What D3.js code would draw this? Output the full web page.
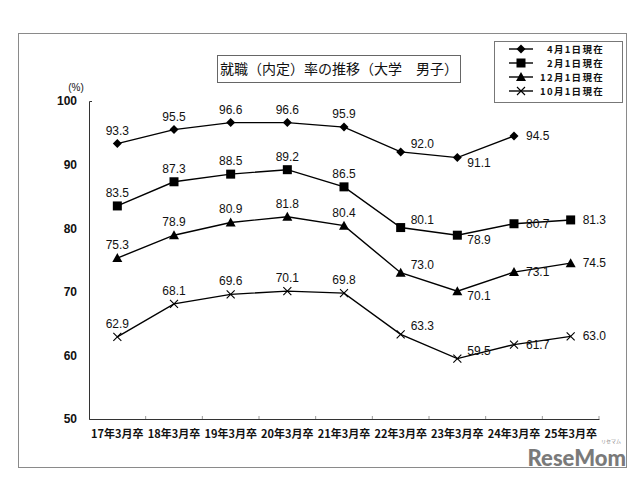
<html lang="ja">
<head>
<meta charset="utf-8">
<title>就職(内定)率の推移</title>
<script src="https://d3js.org/d3.v7.min.js"></script>
<style>
  body { margin: 0; background: #fff; }
  svg { display: block; }
  .num { font-family: "Liberation Sans", Arial, sans-serif; fill: #111; }
  .jp { font-family: "Noto Sans CJK JP", sans-serif; fill: #111; }
</style>
</head>
<body>
<svg id="chart" width="640" height="481"></svg>
<script>
// categories (graduation year)
var categories = ["17年3月卒", "18年3月卒", "19年3月卒", "20年3月卒", "21年3月卒",
                  "22年3月卒", "23年3月卒", "24年3月卒", "25年3月卒"];

// series values (null = not yet surveyed)
var apr1 = [93.3, 95.5, 96.6, 96.6, 95.9, 92.0, 91.1, 94.5, null];
var feb1 = [83.5, 87.3, 88.5, 89.2, 86.5, 80.1, 78.9, 80.7, 81.3];
var dec1 = [75.3, 78.9, 80.9, 81.8, 80.4, 73.0, 70.1, 73.1, 74.5];
var oct1 = [62.9, 68.1, 69.6, 70.1, 69.8, 63.3, 59.5, 61.7, 63.0];

// data label placement per point (t = above, tr = upper right, br = lower right, r = right)
var apr1Pos = ["t", "t", "t", "t", "t", "tr", "br", "r", null];
var feb1Pos = ["t", "t", "t", "t", "t", "tr", "br", "r", "r"];
var dec1Pos = ["t", "t", "t", "t", "t", "tr", "br", "r", "r"];
var oct1Pos = ["t", "t", "t", "t", "t", "tr", "tr", "r", "r"];

var yTicks = [50, 60, 70, 80, 90, 100];

var seriesList = [
  {name: "4月1日現在", values: apr1, pos: apr1Pos, symbol: "diamond"},
  {name: "2月1日現在", values: feb1, pos: feb1Pos, symbol: "square"},
  {name: "12月1日現在", values: dec1, pos: dec1Pos, symbol: "triangle"},
  {name: "10月1日現在", values: oct1, pos: oct1Pos, symbol: "cross"}
];

var svg = d3.select("#chart");

// outer frame
svg.append("rect")
  .attr("x", 18.5).attr("y", 33.5)
  .attr("width", 608).attr("height", 434)
  .attr("fill", "#fff").attr("stroke", "#8a8a8a").attr("stroke-width", 1);

var x = d3.scaleBand().domain(categories).range([89, 599]);
var y = d3.scaleLinear().domain([50, 100]).range([419, 101]);

// axes
var xAxis = svg.append("g")
  .attr("transform", "translate(0," + y(50) + ")")
  .call(d3.axisBottom(x).tickSize(0).tickPadding(11));
xAxis.select(".domain").attr("stroke", "#333");
xAxis.selectAll("text")
  .attr("class", "jp")
  .style("font-size", "11px")
  .style("font-weight", "bold");

// inner tick marks between categories
svg.append("g").selectAll("line")
  .data(categories)
  .enter().append("line")
  .attr("x1", function (d) { return x(d) + x.bandwidth(); })
  .attr("x2", function (d) { return x(d) + x.bandwidth(); })
  .attr("y1", y(50)).attr("y2", y(50) - 3)
  .attr("stroke", "#999");

var yAxis = svg.append("g")
  .attr("transform", "translate(89,0)")
  .call(d3.axisLeft(y).tickValues(yTicks).tickSizeInner(0).tickSizeOuter(-3).tickPadding(12));
yAxis.select(".domain").attr("stroke", "#333");
yAxis.selectAll("text")
  .attr("class", "num")
  .style("font-size", "12px")
  .style("font-weight", "bold");

svg.append("text")
  .attr("class", "num")
  .attr("x", 76).attr("y", 91)
  .attr("text-anchor", "middle")
  .style("font-size", "10px")
  .text("(%)");

// series
var line = d3.line()
  .defined(function (d) { return d != null; })
  .x(function (d, i) { return x(categories[i]) + x.bandwidth() / 2; })
  .y(function (d) { return y(d); });

function drawSymbol(g, type, cx, cy) {
  if (type === "diamond") {
    g.append("path")
      .attr("d", "M" + cx + "," + (cy - 4.5) + "L" + (cx + 4.5) + "," + cy +
                 "L" + cx + "," + (cy + 4.5) + "L" + (cx - 4.5) + "," + cy + "Z")
      .attr("fill", "#000");
  } else if (type === "square") {
    g.append("rect")
      .attr("x", cx - 4.5).attr("y", cy - 4.5)
      .attr("width", 9).attr("height", 9)
      .attr("fill", "#000");
  } else if (type === "triangle") {
    g.append("path")
      .attr("d", "M" + cx + "," + (cy - 5) + "L" + (cx + 5) + "," + (cy + 4) +
                 "L" + (cx - 5) + "," + (cy + 4) + "Z")
      .attr("fill", "#000");
  } else {
    g.append("path")
      .attr("d", "M" + (cx - 4) + "," + (cy - 4) + "L" + (cx + 4) + "," + (cy + 4) +
                 "M" + (cx - 4) + "," + (cy + 4) + "L" + (cx + 4) + "," + (cy - 4))
      .attr("stroke", "#000").attr("stroke-width", 1.1).attr("fill", "none");
  }
}

seriesList.forEach(function (s) {
  var g = svg.append("g");
  g.append("path")
    .attr("d", line(s.values))
    .attr("fill", "none")
    .attr("stroke", "#000")
    .attr("stroke-width", 1.4);

  s.values.forEach(function (v, i) {
    if (v == null) return;
    var cx = x(categories[i]) + x.bandwidth() / 2, cy = y(v);
    drawSymbol(g, s.symbol, cx, cy);

    var p = s.pos[i], tx = cx, ty = cy - 9, anchor = "middle";
    if (p === "tr") { tx = cx + 10; ty = cy - 4; anchor = "start"; }
    else if (p === "br") { tx = cx + 10; ty = cy + 9; anchor = "start"; }
    else if (p === "r") { tx = cx + 12; ty = cy + 4; anchor = "start"; }
    g.append("text")
      .attr("class", "num")
      .attr("x", tx).attr("y", ty)
      .attr("text-anchor", anchor)
      .style("font-size", "12px")
      .text(v.toFixed(1));
  });
});

// title box
var title = svg.append("g");
title.append("rect")
  .attr("x", 217.5).attr("y", 55.5)
  .attr("width", 243).attr("height", 27)
  .attr("fill", "#fff").attr("stroke", "#666");
title.append("text")
  .attr("class", "jp")
  .attr("x", 339).attr("y", 74)
  .attr("text-anchor", "middle")
  .style("font-size", "14px")
  .text("就職（内定）率の推移（大学　男子）");

// legend
var legend = svg.append("g");
legend.append("rect")
  .attr("x", 494.5).attr("y", 41.5)
  .attr("width", 128).attr("height", 61)
  .attr("fill", "#fff").attr("stroke", "#777");
seriesList.forEach(function (s, i) {
  var ly = 49 + i * 14;
  legend.append("line")
    .attr("x1", 509).attr("x2", 533)
    .attr("y1", ly).attr("y2", ly)
    .attr("stroke", "#000").attr("stroke-width", 1.4);
  drawSymbol(legend, s.symbol, 521, ly);
  legend.append("text")
    .attr("class", "jp")
    .attr("x", 604).attr("y", ly + 3.5)
    .attr("text-anchor", "end")
    .style("font-size", "9.5px")
    .style("font-weight", "bold")
    .style("letter-spacing", "1.3px")
    .text(s.name);
});

// watermark
svg.append("text")
  .attr("x", 626).attr("y", 466)
  .attr("text-anchor", "end")
  .style("font-family", "Lato, sans-serif")
  .style("font-weight", "900")
  .style("font-size", "22px")
  .attr("fill", "#7a7a7a")
  .text("ReseMom");
svg.append("text")
  .attr("x", 621).attr("y", 443)
  .attr("text-anchor", "end")
  .style("font-family", "Noto Sans CJK JP, sans-serif")
  .style("font-size", "5px")
  .attr("fill", "#888")
  .text("リセマム");
</script>
</body>
</html>
